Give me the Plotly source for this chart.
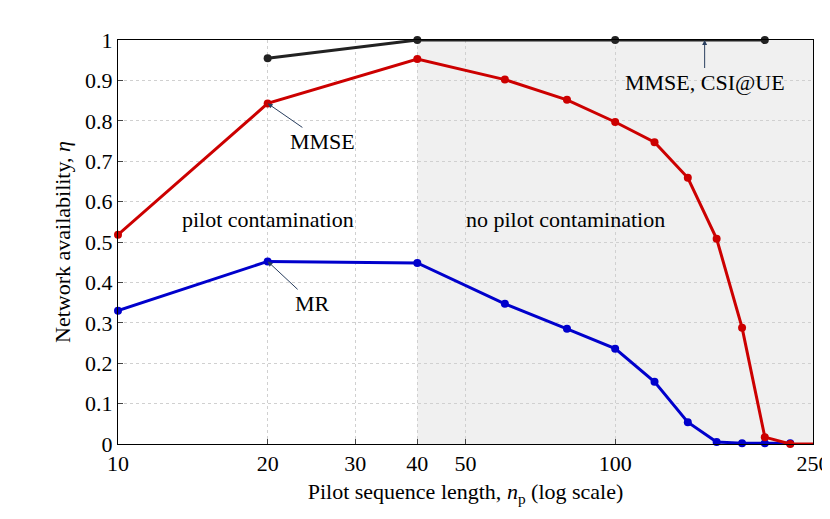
import plotly.graph_objects as go

# pilot sequence lengths
n_p = [10, 20, 40, 60, 80, 100, 120, 140, 160, 180, 200, 225, 250]
mmse = [0.518, 0.843, 0.953, 0.902, 0.852, 0.797, 0.747, 0.659, 0.508, 0.288, 0.017, 0.0, 0.0]
mr = [0.330, 0.452, 0.448, 0.347, 0.285, 0.236, 0.154, 0.054, 0.005, 0.002, 0.002, 0.002]
n_ue = [20, 40, 100, 200]
mmse_ue = [0.955, 1.0, 1.0, 1.0]
y_ticks = [0, 0.1, 0.2, 0.3, 0.4, 0.5, 0.6, 0.7, 0.8, 0.9, 1]
y_labels = ["0", "0.1", "0.2", "0.3", "0.4", "0.5", "0.6", "0.7", "0.8", "0.9", "1"]

FONT = "Liberation Serif"
tf = dict(family=FONT, size=22, color="black")

fig = go.Figure()
fig.add_vrect(x0=40, x1=250, fillcolor="#f0f0f0", line_width=0, layer="below")
fig.add_trace(go.Scatter(x=n_ue, y=mmse_ue, mode="lines+markers",
                         line=dict(color="#222222", width=3), marker=dict(size=8), cliponaxis=False))
fig.add_trace(go.Scatter(x=n_p[:len(mr)], y=mr, mode="lines+markers",
                         line=dict(color="#0000cc", width=3), marker=dict(size=8), cliponaxis=False))
fig.add_trace(go.Scatter(x=n_p, y=mmse, mode="lines+markers",
                         line=dict(color="#cc0000", width=3), marker=dict(size=8), cliponaxis=False))

ann = dict(font=tf, showarrow=True, arrowhead=2, arrowsize=1, arrowwidth=1)
fig.add_annotation(x=1.301, y=0.843, text="MMSE", ax=55, ay=38, **ann)
fig.add_annotation(x=1.301, y=0.452, text="MR", ax=45, ay=42, **ann)
fig.add_annotation(x=2.18, y=1.0, text="MMSE, CSI@UE", ax=0, ay=42, **ann)
fig.add_annotation(x=1.302, y=0.555, text="pilot contamination", showarrow=False, font=tf)
fig.add_annotation(x=1.9, y=0.555, text="no pilot contamination", showarrow=False, font=tf)

fig.update_xaxes(type="log", range=[1, 2.39794], tickvals=[10, 20, 30, 40, 50, 100, 250],
                 ticktext=["10", "20", "30", "40", "50", "100", "250"],
                 showgrid=True, gridcolor="#d0d0d0", griddash="dot",
                 showline=True, linecolor="black", mirror=True, ticks="inside", automargin=False,
                 title=dict(text="Pilot sequence length, <i>n</i><sub>p</sub> (log scale)",
                            font=tf, standoff=8),
                 tickfont=tf)
fig.update_yaxes(range=[0, 1], tickvals=y_ticks, ticktext=y_labels,
                 showgrid=True, gridcolor="#d0d0d0", griddash="dot",
                 showline=True, linecolor="black", mirror=True, ticks="inside", automargin=False,
                 title=dict(text="Network availability, <i>η</i>", font=tf, standoff=8),
                 tickfont=tf)
fig.update_layout(width=830, height=519, showlegend=False,
                  plot_bgcolor="white", paper_bgcolor="white",
                  margin=dict(l=110, r=25, t=32, b=83))
fig.write_html("out.html")
